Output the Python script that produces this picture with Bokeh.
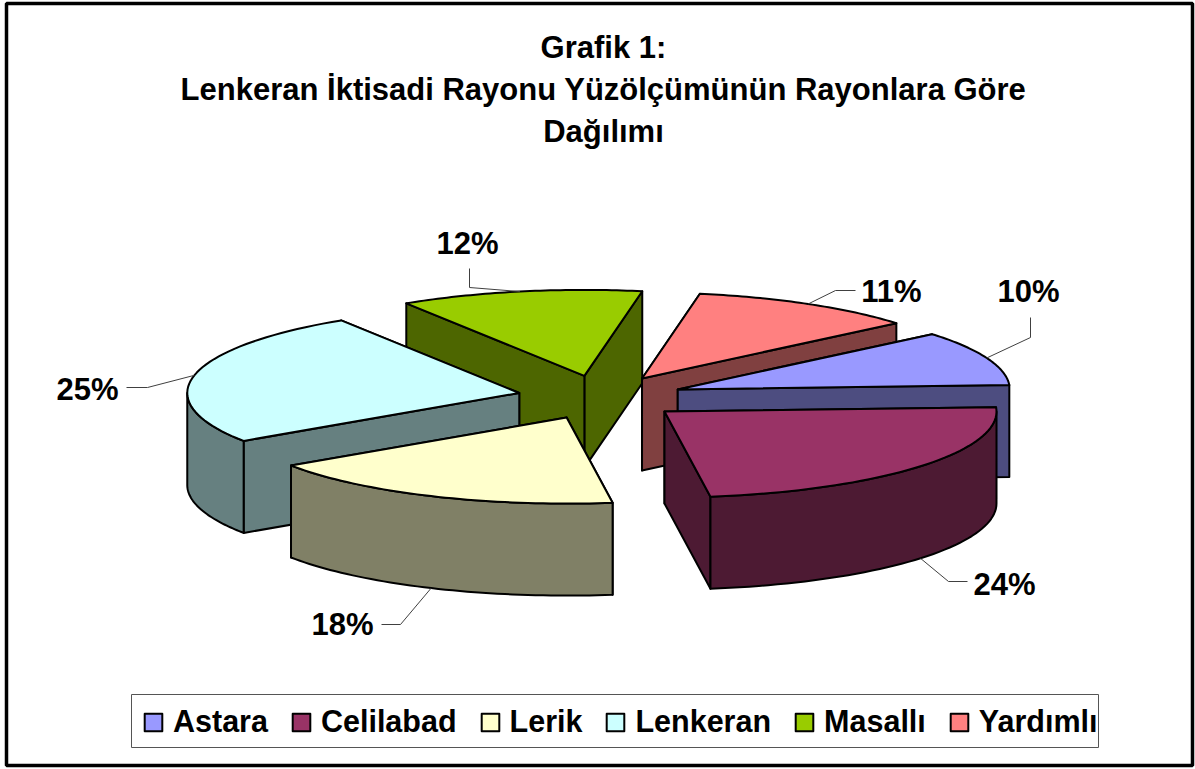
import math
from bokeh.plotting import figure
from bokeh.models import Legend, LegendItem, Range1d
from bokeh.core.properties import value
from bokeh.embed import file_html
from bokeh.resources import INLINE

# ---- data ----
categories = ["Astara", "Celilabad", "Lerik", "Lenkeran", "Masallı", "Yardımlı"]
shares = [10.3, 23.6, 17.8, 25.4, 11.8, 11.1]
title_lines = ["Grafik 1:", "Lenkeran İktisadi Rayonu Yüzölçümünün Rayonlara Göre", "Dağılımı"]

# ---- style ----
top_colors = ["#9999FF", "#993366", "#FFFFCC", "#CCFFFF", "#99CC00", "#FF8080"]
wall_colors = ["#4D4D80", "#4D1A33", "#808066", "#668080", "#4D6600", "#804040"]
W, H = 1195, 769
FONT = value("Liberation Sans")
CX, CY = 600, 397        # pie centre
RX, RY = 332, 86         # ellipse radii of the tilted pie
EX, EY = 83, 22          # explosion offset
DEPTH = 92
START = 40               # first slice's starting angle, clockwise from here
leader_elbow = [(1030, 337), (948, 581), (400, 624), (147, 387), (469, 287), (835, 290)]
leader_end = [(1030, 317), (967, 581), (381, 624), (126, 387), (469, 268), (855, 290)]
label_pos = [(1028, 291), (1004, 584), (342, 624), (87, 389), (467, 243), (891, 291)]

p = figure(width=W, height=H, x_range=Range1d(0, W), y_range=Range1d(H, 0),
           output_backend="svg", toolbar_location=None, min_border=0,
           margin=(0, 0, 0, 0), background_fill_color="white", border_fill_color="white")
p.axis.visible = False
p.grid.visible = False
p.outline_line_color = None

# outer frame
p.quad(left=[6], right=[1192], top=[3], bottom=[765], fill_color=None,
       line_color="black", line_width=3.5)

for i, line in enumerate(title_lines):
    p.text([603], [47 + i * 42], text=[line], text_font=FONT, text_font_style="bold",
           text_font_size="31px", text_align="center", text_baseline="middle", text_color="black")


def arc_points(ax, ay, t1, t2, n=48, dy=0):
    pts = []
    for k in range(n + 1):
        t = math.radians(t1 + (t2 - t1) * k / n)
        pts.append((ax + RX * math.cos(t), ay - RY * math.sin(t) + dy))
    return pts


total = sum(shares)
slices = []
a = START
for i, s in enumerate(shares):
    sweep = 360 * s / total
    t1, t2 = a, a - sweep
    a = t2
    mid = math.radians((t1 + t2) / 2)
    ax = CX + EX * math.cos(mid)
    ay = CY - EY * math.sin(mid)
    slices.append(dict(i=i, t1=t1, t2=t2, mid=mid, ax=ax, ay=ay))


def poly(pts, fill):
    return p.patch([q[0] for q in pts], [q[1] for q in pts], fill_color=fill,
                   line_color="black", line_width=2, line_join="round")


legend_renderers = {}
for sl in sorted(slices, key=lambda d: d["ay"]):
    i, ax, ay, t1, t2 = sl["i"], sl["ax"], sl["ay"], sl["t1"], sl["t2"]
    walls = []
    for t in (t1, t2):
        e = arc_points(ax, ay, t, t, n=1)[0]
        walls.append([(ax, ay), e, (e[0], e[1] + DEPTH), (ax, ay + DEPTH)])
    walls.sort(key=lambda w: sum(q[1] for q in w))
    for w in walls:
        poly(w, wall_colors[i])
    # front-facing part of the rim: where the angle's sine is negative
    for k in (0, -1):
        f_hi = min(t1, 360 * k)
        f_lo = max(t2, 360 * k - 180)
        if f_hi > f_lo:
            upper = arc_points(ax, ay, f_hi, f_lo)
            lower = arc_points(ax, ay, f_lo, f_hi, dy=DEPTH)
            poly(upper + lower, wall_colors[i])
    top = [(ax, ay)] + arc_points(ax, ay, t1, t2)
    legend_renderers[i] = poly(top, top_colors[i])

# leaders and labels
for sl in slices:
    i = sl["i"]
    sm, cm = math.sin(sl["mid"]), math.cos(sl["mid"])
    x0 = sl["ax"] + RX * cm
    y0 = sl["ay"] - RY * sm + (DEPTH if sm < 0 and i in (1, 2) else 0)
    p.line([x0, leader_elbow[i][0], leader_end[i][0]], [y0, leader_elbow[i][1], leader_end[i][1]],
           line_color="#404040", line_width=1)
    p.text([label_pos[i][0]], [label_pos[i][1]], text=[f"{round(shares[i])}%"], text_font=FONT,
           text_font_style="bold", text_font_size="31px", text_align="center",
           text_baseline="middle", text_color="black")

# legend box
p.quad(left=[131], right=[1098], top=[694], bottom=[747], fill_color="white",
       line_color="#555555", line_width=1)
legend = Legend(items=[LegendItem(label=c, renderers=[legend_renderers[i]]) for i, c in enumerate(categories)],
                orientation="horizontal", location=(142, 30), padding=0, margin=0, spacing=22,
                label_standoff=9, glyph_width=22, glyph_height=22,
                label_text_font="Liberation Sans", label_text_font_style="bold", label_text_font_size="30.5px",
                label_text_color="black", border_line_color=None, background_fill_alpha=0)
p.add_layout(legend, "center")

open("out.html", "w").write(file_html(p, INLINE))
